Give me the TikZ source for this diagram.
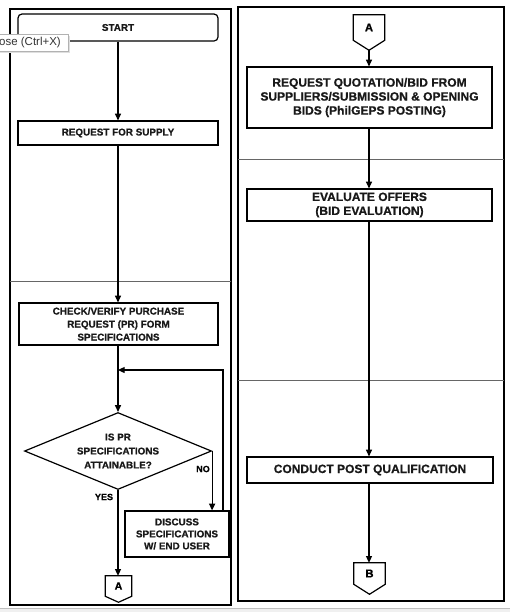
\documentclass[tikz,border=0pt]{standalone}
\usepackage{fontspec}
\setmainfont{Liberation Sans}
\newfontfamily\heavyfont[FakeBold=0.8]{Liberation Sans Bold}
\usetikzlibrary{arrows.meta,shapes.geometric,calc}
\begin{document}
\begin{tikzpicture}[x=0.75pt,y=-0.75pt,
  lt/.style={font=\fontsize{7.4}{9.75}\selectfont\heavyfont, align=center, text=black!90},
  rt/.style={font=\fontsize{9}{10.5}\selectfont\heavyfont, align=center, text=black!90},
  box/.style={draw, line width=0.9pt, inner sep=0pt},
  ln/.style={line width=0.9pt},
  arr/.style={line width=0.9pt, -{Triangle[length=5pt,width=4.5pt]}},
  conn/.style={inner sep=0pt, font=\fontsize{8}{9}\selectfont\heavyfont},
  panel/.style={line width=1pt},
  divider/.style={line width=0.6pt, black!60},
  lbl/.style={font=\fontsize{6.8}{8}\selectfont\heavyfont, inner sep=0pt}]

\useasboundingbox (0,0) rectangle (510,612);
\fill[white] (0,0) rectangle (510,612);
\fill[gray!12] (0,608) rectangle (510,612);
\draw[gray!50, line width=0.5pt] (0,608) -- (510,608);

% panels
\draw[panel] (10,9) rectangle (231,605);
\draw[panel] (238,7) rectangle (504,601);
\draw[divider] (10,281) -- (231,281);
\draw[divider] (238,159) -- (504,159);
\draw[divider] (238,380) -- (504,380);

% left column
\node[box, lt, rounded corners=3pt, minimum width=150pt, minimum height=20.25pt] (start) at (118,27.5) {START};
\node[box, lt, minimum width=150pt, minimum height=18pt] (rfs) at (118,133) {REQUEST FOR SUPPLY};
\node[box, lt, minimum width=149.25pt, minimum height=31.5pt] (chk) at (118.5,324) {CHECK/VERIFY PURCHASE\\REQUEST (PR) FORM\\SPECIFICATIONS};
\node[diamond, draw, line width=0.9pt, inner sep=0pt, minimum width=140.25pt, minimum height=57.75pt] (dec) at (118,451) {};
\node[lt, font=\fontsize{7.4}{10.5}\selectfont\heavyfont] (dectext) at (dec) {IS PR\\SPECIFICATIONS\\ATTAINABLE?};
\node[box, lt, font=\fontsize{7.4}{9}\selectfont\heavyfont, minimum width=78pt, minimum height=34.5pt] (disc) at (177,534) {DISCUSS\\SPECIFICATIONS\\W/ END USER};
\node[conn, minimum width=19.5pt, minimum height=15pt] (A1) at (118.5,586) {A};
\draw[ln] (A1.north west) -- (A1.north east) -- (A1.south east) -- ($(A1.south)+(0,6)$) -- (A1.south west) -- cycle;

\node[lbl] (yes) at (104,497) {YES};
\node[lbl] (no) at (203,469) {NO};

\draw[arr] (start.south) -- (start.south |- rfs.north);
\draw[arr] (rfs.south) -- (rfs.south |- chk.north);
\draw[arr] (chk.south -| dec.north) -- (dec.north);
\draw[arr] (dec.east) -- (dec.east |- disc.north);
\coordinate (lp) at (223,370);
\draw[arr] (disc.north -| lp) -- (lp) -- (lp -| dec.north);
\draw[arr] (dec.south) -- (dec.south |- A1.north);

% right column
\node[conn, font=\fontsize{8.5}{9}\selectfont\heavyfont, minimum width=23.25pt, minimum height=18.75pt] (A2) at (369,27.5) {A};
\draw[ln] (A2.north west) -- (A2.north east) -- (A2.south east) -- ($(A2.south)+(0,10)$) -- (A2.south west) -- cycle;
\coordinate (A2tip) at ($(A2.south)+(0,10)$);
\node[box, rt, minimum width=183.75pt, minimum height=45.75pt] (rq) at (369.5,97.5) {REQUEST QUOTATION/BID FROM\\SUPPLIERS/SUBMISSION \& OPENING\\BIDS (PhilGEPS POSTING)};
\node[box, rt, minimum width=183.75pt, minimum height=24pt] (ev) at (369.5,205) {EVALUATE OFFERS\\(BID EVALUATION)};
\node[box, rt, minimum width=184.5pt, minimum height=19.5pt] (cp) at (370,470) {CONDUCT POST QUALIFICATION};
\node[conn, font=\fontsize{8.5}{9}\selectfont\heavyfont, minimum width=23.25pt, minimum height=15.75pt] (B) at (369.5,573.5) {B};
\draw[ln] (B.north west) -- (B.north east) -- (B.south east) -- ($(B.south)+(0,10)$) -- (B.south west) -- cycle;

\draw[arr] (A2tip) -- (A2tip |- rq.north);
\draw[arr] (A2tip |- rq.south) -- (A2tip |- ev.north);
\draw[arr] (A2tip |- ev.south) -- (A2tip |- cp.north);
\draw[arr] (A2tip |- cp.south) -- (A2tip |- B.north);

% tooltip
\fill[gray!25] (0,36) rectangle (70,53);
\node[draw=gray!60, fill=white, line width=0.6pt, minimum width=52.5pt, minimum height=12.75pt, inner sep=0pt] (tip) at (33,42.5) {};
\node[font=\fontsize{8.6}{10}\selectfont, text=black!80, anchor=east, inner sep=0pt] (tiptext) at (61,43) {ose (Ctrl+X)};
\end{tikzpicture}
\end{document}
